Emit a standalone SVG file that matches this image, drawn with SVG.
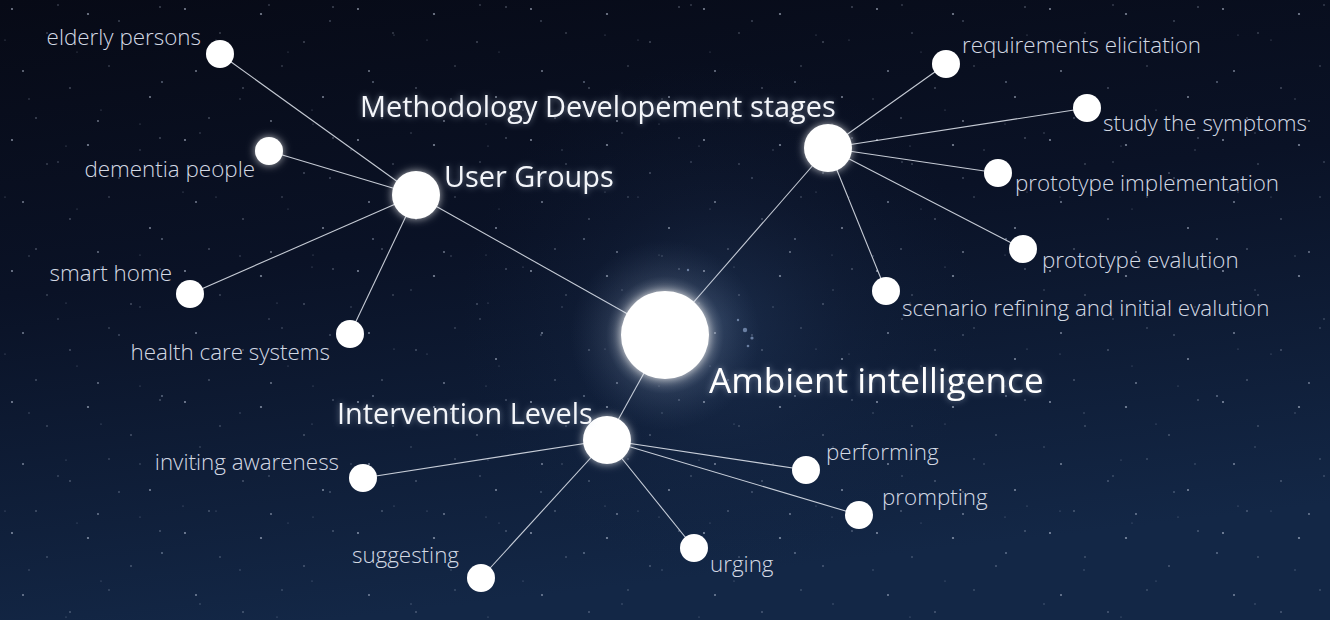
<svg xmlns="http://www.w3.org/2000/svg" width="1330" height="620" viewBox="0 0 1330 620">
  <defs>
    <linearGradient id="sky" x1="0" y1="0" x2="0.25" y2="1">
      <stop offset="0" stop-color="#070a16"/>
      <stop offset="0.45" stop-color="#0a1226"/>
      <stop offset="1" stop-color="#132746"/>
    </linearGradient>
    <radialGradient id="haze" cx="720" cy="320" r="260" gradientUnits="userSpaceOnUse">
      <stop offset="0" stop-color="#3b5a86" stop-opacity="0.3"/>
      <stop offset="0.5" stop-color="#22375a" stop-opacity="0.15"/>
      <stop offset="1" stop-color="#14294a" stop-opacity="0"/>
    </radialGradient>
    <radialGradient id="coreGlow" cx="665" cy="335" r="95" gradientUnits="userSpaceOnUse">
      <stop offset="0.42" stop-color="#ffffff" stop-opacity="0.4"/>
      <stop offset="0.62" stop-color="#a9bedc" stop-opacity="0.12"/>
      <stop offset="1" stop-color="#6d86ad" stop-opacity="0"/>
    </radialGradient>
    <!-- two star tiles of different size so the repetition is less visible -->
    <pattern id="starsA" width="173" height="131" patternUnits="userSpaceOnUse">
      <g fill="#c9d3e6">
        <circle cx="12" cy="9" r="0.9" opacity="0.7"/>
        <circle cx="47" cy="33" r="0.7" opacity="0.5"/>
        <circle cx="88" cy="14" r="1.1" opacity="0.6"/>
        <circle cx="131" cy="42" r="0.8" opacity="0.5"/>
        <circle cx="160" cy="7" r="0.7" opacity="0.6"/>
        <circle cx="23" cy="71" r="1" opacity="0.55"/>
        <circle cx="70" cy="88" r="0.8" opacity="0.5"/>
        <circle cx="109" cy="66" r="0.7" opacity="0.45"/>
        <circle cx="150" cy="97" r="1" opacity="0.6"/>
        <circle cx="36" cy="118" r="0.8" opacity="0.5"/>
        <circle cx="98" cy="121" r="0.9" opacity="0.55"/>
        <circle cx="140" cy="124" r="0.6" opacity="0.4"/>
      </g>
    </pattern>
    <pattern id="starsB" width="211" height="157" patternUnits="userSpaceOnUse">
      <g fill="#b8c6de">
        <circle cx="5" cy="40" r="0.6" opacity="0.45"/>
        <circle cx="58" cy="5" r="0.7" opacity="0.5"/>
        <circle cx="77" cy="52" r="0.6" opacity="0.4"/>
        <circle cx="119" cy="21" r="0.8" opacity="0.5"/>
        <circle cx="183" cy="35" r="0.6" opacity="0.45"/>
        <circle cx="29" cy="99" r="0.7" opacity="0.4"/>
        <circle cx="101" cy="110" r="0.6" opacity="0.45"/>
        <circle cx="162" cy="82" r="0.9" opacity="0.5"/>
        <circle cx="200" cy="133" r="0.7" opacity="0.4"/>
        <circle cx="66" cy="146" r="0.6" opacity="0.45"/>
        <circle cx="140" cy="150" r="0.7" opacity="0.4"/>
      </g>
    </pattern>
    <filter id="glow" x="-60%" y="-60%" width="220%" height="220%">
      <feGaussianBlur in="SourceAlpha" stdDeviation="4" result="b"/>
      <feFlood flood-color="#ffffff" flood-opacity="0.7"/>
      <feComposite in2="b" operator="in" result="g"/>
      <feMerge><feMergeNode in="g"/><feMergeNode in="SourceGraphic"/></feMerge>
    </filter>
    <filter id="textGlow" x="-10%" y="-40%" width="120%" height="180%">
      <feGaussianBlur in="SourceAlpha" stdDeviation="3" result="b"/>
      <feFlood flood-color="#cfdcf0" flood-opacity="0.5"/>
      <feComposite in2="b" operator="in" result="g"/>
      <feMerge><feMergeNode in="g"/><feMergeNode in="SourceGraphic"/></feMerge>
    </filter>
    <style>
      .dot { fill: #ffffff; }
      .hub { fill: #ffffff; filter: url(#glow); }
      .leaf-label { font-family: "Open Sans", "Noto Sans", "Liberation Sans", sans-serif; font-weight: 300; font-size: 22.4px; fill: #d3d9e4; }
      .hub-label { font-family: "Open Sans", "Noto Sans", "Liberation Sans", sans-serif; font-weight: 400; font-size: 28.9px; fill: #f4f6fa; filter: url(#textGlow); }
      .main-label { font-family: "Open Sans", "Noto Sans", "Liberation Sans", sans-serif; font-weight: 400; font-size: 35.2px; fill: #ffffff; filter: url(#textGlow); }
      .end { text-anchor: end; }
      #connectors line { stroke: #e6ebf3; stroke-width: 1.1; stroke-opacity: 0.85; }
    </style>
  </defs>

  <!-- night sky -->
  <rect width="1330" height="620" fill="url(#sky)"/>
  <rect width="1330" height="620" fill="url(#haze)"/>
  <rect width="1330" height="620" fill="url(#starsA)"/>
  <rect width="1330" height="620" fill="url(#starsB)"/>
  <g fill="#9fb7de" opacity="0.6">
    <circle cx="745" cy="330" r="2.2"/>
    <circle cx="752" cy="338" r="1.6"/>
    <circle cx="738" cy="320" r="1.2"/>
    <circle cx="748" cy="346" r="1.3"/>
    <circle cx="688" cy="270" r="1.2"/>
  </g>

  <!-- connectors -->
  <g id="connectors">
    <line x1="665" y1="335" x2="416" y2="195"/>
    <line x1="665" y1="335" x2="828" y2="148"/>
    <line x1="665" y1="335" x2="607" y2="440"/>

    <line x1="416" y1="195" x2="220" y2="54"/>
    <line x1="416" y1="195" x2="269" y2="151"/>
    <line x1="416" y1="195" x2="190" y2="294"/>
    <line x1="416" y1="195" x2="350" y2="334"/>

    <line x1="828" y1="148" x2="946" y2="64"/>
    <line x1="828" y1="148" x2="1087" y2="108"/>
    <line x1="828" y1="148" x2="998" y2="173"/>
    <line x1="828" y1="148" x2="1023" y2="249"/>
    <line x1="828" y1="148" x2="886" y2="291"/>

    <line x1="607" y1="440" x2="363" y2="478"/>
    <line x1="607" y1="440" x2="481" y2="578"/>
    <line x1="607" y1="440" x2="694" y2="548"/>
    <line x1="607" y1="440" x2="806" y2="470"/>
    <line x1="607" y1="440" x2="859" y2="515"/>
  </g>

  <!-- central node -->
  <g id="ambient-intelligence">
    <circle cx="665" cy="335" r="95" fill="url(#coreGlow)"/>
    <circle class="hub" cx="665" cy="335" r="44"/>
    <text class="main-label" x="709" y="393">Ambient intelligence</text>
  </g>

  <!-- User Groups branch -->
  <g id="user-groups">
    <circle class="hub" cx="416" cy="195" r="24"/>
    <text class="hub-label" x="444" y="187">User Groups</text>
  </g>
  <g id="elderly-persons">
    <circle class="dot" cx="220" cy="54" r="14"/>
    <text class="leaf-label end" x="201" y="45">elderly persons</text>
  </g>
  <g id="dementia-people">
    <circle class="hub" cx="269" cy="151" r="14"/>
    <text class="leaf-label end" x="255" y="177">dementia people</text>
  </g>
  <g id="smart-home">
    <circle class="dot" cx="190" cy="294" r="14"/>
    <text class="leaf-label end" x="172" y="281">smart home</text>
  </g>
  <g id="health-care-systems">
    <circle class="dot" cx="350" cy="334" r="14"/>
    <text class="leaf-label end" x="330" y="360">health care systems</text>
  </g>

  <!-- Methodology branch -->
  <g id="methodology">
    <circle class="hub" cx="828" cy="148" r="24"/>
    <text class="hub-label" x="360" y="117">Methodology Developement stages</text>
  </g>
  <g id="requirements-elicitation">
    <circle class="dot" cx="946" cy="64" r="14"/>
    <text class="leaf-label" x="962" y="53">requirements elicitation</text>
  </g>
  <g id="study-the-symptoms">
    <circle class="dot" cx="1087" cy="108" r="14"/>
    <text class="leaf-label" x="1103" y="131">study the symptoms</text>
  </g>
  <g id="prototype-implementation">
    <circle class="dot" cx="998" cy="173" r="14"/>
    <text class="leaf-label" x="1015" y="191">prototype implementation</text>
  </g>
  <g id="prototype-evalution">
    <circle class="dot" cx="1023" cy="249" r="14"/>
    <text class="leaf-label" x="1042" y="268">prototype evalution</text>
  </g>
  <g id="scenario-refining">
    <circle class="dot" cx="886" cy="291" r="14"/>
    <text class="leaf-label" x="902" y="316">scenario refining and initial evalution</text>
  </g>

  <!-- Intervention branch -->
  <g id="intervention-levels">
    <circle class="hub" cx="607" cy="440" r="24"/>
    <text class="hub-label" x="337" y="424">Intervention Levels</text>
  </g>
  <g id="inviting-awareness">
    <circle class="dot" cx="363" cy="478" r="14"/>
    <text class="leaf-label end" x="339" y="470">inviting awareness</text>
  </g>
  <g id="suggesting">
    <circle class="dot" cx="481" cy="578" r="14"/>
    <text class="leaf-label end" x="459" y="563">suggesting</text>
  </g>
  <g id="urging">
    <circle class="dot" cx="694" cy="548" r="14"/>
    <text class="leaf-label" x="710" y="572">urging</text>
  </g>
  <g id="performing">
    <circle class="dot" cx="806" cy="470" r="14"/>
    <text class="leaf-label" x="826" y="460">performing</text>
  </g>
  <g id="prompting">
    <circle class="dot" cx="859" cy="515" r="14"/>
    <text class="leaf-label" x="882" y="505">prompting</text>
  </g>
</svg>
